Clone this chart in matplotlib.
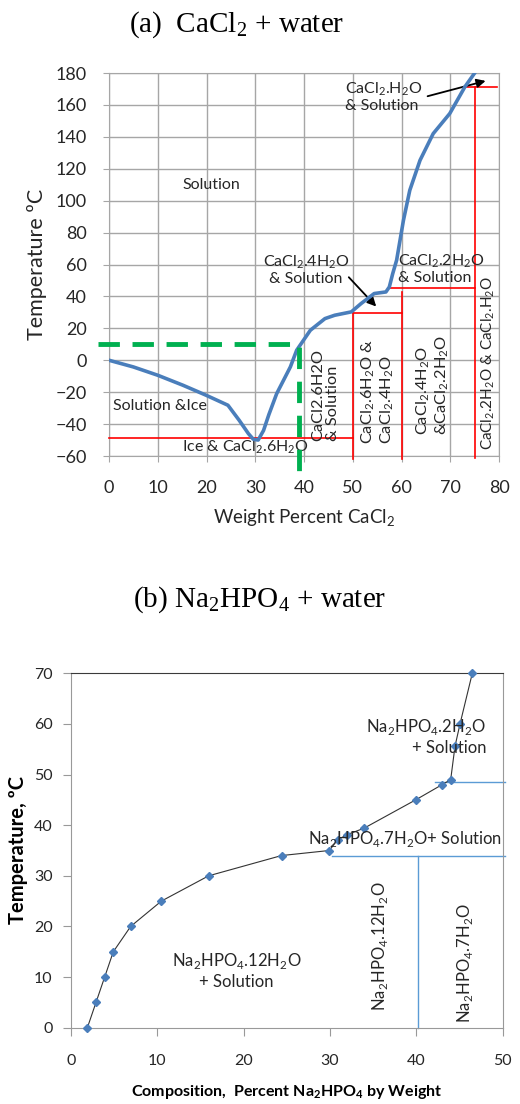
import matplotlib
matplotlib.use("Agg")
import matplotlib.pyplot as plt

plt.rcParams["font.family"] = ["Lato", "DejaVu Sans"]

# ---- (a) CaCl2 + water ----
cacl2_pct = [0, 5, 10, 15.2, 19.9, 24.4, 26.7, 28.6, 29.6, 30.6, 31.7, 32.8, 34.4,
             37.2, 38.5, 41.3, 44.3, 46.3, 49.7, 51.7, 54.4, 56.8, 57.5, 58.2, 59.0,
             60.4, 61.7, 63.8, 66.5, 69.9, 73.0, 75.4]
cacl2_temp = [0, -4.2, -9.4, -15.7, -21.9, -28.2, -37.6, -46, -49.5, -50, -44, -34,
              -20.9, -4.2, 6.3, 18.8, 26.1, 28.2, 30.3, 35.5, 41.8, 42.8, 45.9, 54.3,
              62.7, 87.7, 106.5, 125.3, 142, 154.6, 171.3, 181.7]
# phase boundaries (x pairs, y pairs)
bound_x = [[0, 50], [50, 50], [50, 60], [60, 60], [57.5, 75], [75, 75], [73, 79.5]]
bound_y = [[-49, -49], [30, -62], [29.5, 29.5], [43, -62], [45, 45], [171, -61], [171, 171]]
guide_temp = 10
guide_pct = 39

# ---- (b) Na2HPO4 + water ----
na_pct = [1.93, 2.93, 3.93, 4.93, 6.94, 10.49, 15.97, 24.4, 29.93, 30.9, 31.94,
          33.95, 39.93, 42.98, 43.98, 44.48, 45.06, 46.48]
na_temp = [0, 5, 10, 15, 20, 25, 30, 34, 35, 37.1, 38.1, 39.4, 45, 48, 49, 55.6, 60, 70]
na_bound_x = [[42.2, 50.3], [30.3, 50.3], [40.2, 40.2]]
na_bound_y = [[48.5, 48.5], [34, 34], [34, 0]]

BLUE = "#4a7ebb"
GRID = "#a6a6a6"
TXT = "#262626"

fig = plt.figure(figsize=(5.2, 11.04), dpi=100)

fig.text(237 / 520, 1 - 25 / 1104, r"(a)  CaCl$_\mathregular{2}$ + water",
         family="Liberation Serif", fontsize=21, ha="center", va="center")
fig.text(260 / 520, 1 - 600 / 1104, r"(b) Na$_\mathregular{2}$HPO$_\mathregular{4}$ + water",
         family="Liberation Serif", fontsize=21, ha="center", va="center")

ax = fig.add_axes([109 / 520, 1 - 456 / 1104, 390 / 520, 383 / 1104])
ax.set_xlim(0, 80)
ax.set_ylim(-60, 180)
ax.set_xticks(range(0, 81, 10))
ax.set_yticks(range(-60, 181, 20))
ax.grid(True, color=GRID, lw=1)
ax.set_axisbelow(True)
for s in ax.spines.values():
    s.set_color(GRID)
ax.tick_params(colors=GRID, length=4, labelcolor=TXT, labelsize=13)
ax.tick_params(axis="x", pad=13)
ax.tick_params(axis="y", pad=12)
ax.set_xlabel(r"Weight Percent CaCl$_\mathregular{2}$", fontsize=13.5, color=TXT, labelpad=9)
ax.set_ylabel("Temperature ºC", fontsize=15.5, color=TXT, labelpad=6)

for xs, ys in zip(bound_x, bound_y):
    ax.plot(xs, ys, color="red", lw=1.2, clip_on=False, zorder=3)
ax.plot(cacl2_pct, cacl2_temp, color=BLUE, lw=2.6, zorder=4,
        solid_capstyle="round", solid_joinstyle="round")
ax.plot([-2.2, guide_pct, guide_pct], [guide_temp, guide_temp, -71], color="#00b050",
        lw=3.5, dashes=(4.4, 2.6), clip_on=False, zorder=5)

fs = 11.5
sub2 = r"$_\mathregular{2}$"
ax.text(21, 110, "Solution", fontsize=fs, color=TXT, ha="center", va="center")
ax.text(10.5, -28.5, "Solution &Ice", fontsize=fs, color=TXT, ha="center", va="center")
ax.text(27.9, -54.7, "Ice & CaCl" + sub2 + ".6H" + sub2 + "O", fontsize=fs, color=TXT,
        ha="center", va="center")
ax.text(48.5, 165, "CaCl" + sub2 + ".H" + sub2 + "O\n& Solution", fontsize=fs, color=TXT,
        ha="left", va="center", linespacing=1.1)
ax.text(40.4, 57, "CaCl" + sub2 + ".4H" + sub2 + "O\n& Solution", fontsize=fs, color=TXT,
        ha="center", va="center", linespacing=1.1)
ax.text(59.2, 57.5, "CaCl" + sub2 + ".2H" + sub2 + "O\n& Solution", fontsize=fs, color=TXT,
        ha="left", va="center", linespacing=1.1)
ax.annotate("", xy=(77.8, 175.5), xytext=(64.8, 165),
            arrowprops=dict(arrowstyle="-|>", color="black", lw=1.3, mutation_scale=13))
ax.annotate("", xy=(55.2, 32.4), xytext=(48.8, 53.3),
            arrowprops=dict(arrowstyle="-|>", color="black", lw=1.3, mutation_scale=13))

vfs = 11.8
ax.text(44.5, -50.5, "CaCl2.6H2O\n& Solution", fontsize=vfs, color=TXT, rotation=90,
        ha="center", va="bottom", multialignment="left", linespacing=1.1)
ax.text(55.1, -52.3, "CaCl" + sub2 + ".6H" + sub2 + "O &\nCaCl" + sub2 + ".4H" + sub2 + "O",
        fontsize=vfs, color=TXT, rotation=90, ha="center", va="bottom",
        multialignment="left", linespacing=1.1)
ax.text(66.3, -47, "CaCl" + sub2 + ".4H" + sub2 + "O\n&CaCl" + sub2 + ".2H" + sub2 + "O",
        fontsize=vfs, color=TXT, rotation=90, ha="center", va="bottom",
        multialignment="left", linespacing=1.1)
ax.text(77.8, -56.4, "CaCl" + sub2 + ".2H" + sub2 + "O & CaCl" + sub2 + ".H" + sub2 + "O",
        fontsize=11, color=TXT, rotation=90, ha="center", va="bottom")

# ---- panel (b) ----
bx = fig.add_axes([70.7 / 520, 1 - 1027.7 / 1104, 432 / 520, 354.4 / 1104])
bx.set_xlim(0, 50)
bx.set_ylim(0, 70)
bx.set_xticks(range(0, 51, 10))
bx.set_yticks(range(0, 71, 10))
for name, s in bx.spines.items():
    s.set_color("#3a3a3a" if name == "top" else "#999999")
bx.tick_params(colors="#999999", length=6, labelcolor=TXT, labelsize=11.5)
bx.tick_params(axis="x", pad=13)
bx.tick_params(axis="y", pad=7)
sub4 = r"$_\mathregular{4}$"
bx.set_xlabel("Composition,  Percent Na" + sub2 + "HPO" + sub4 + " by Weight",
              fontsize=11.5, fontweight="bold", color="black", labelpad=11)
bx.set_ylabel("Temperature, ºC", fontsize=14.5, fontweight="bold", color="black", labelpad=4)

for xs, ys in zip(na_bound_x, na_bound_y):
    bx.plot(xs, ys, color="#5b9bd5", lw=1.0, clip_on=False, zorder=2)
bx.plot(na_pct, na_temp, color="#333333", lw=0.8, marker="D", ms=4.5,
        mfc=BLUE, mec=BLUE, clip_on=False, zorder=3)

na = "Na" + sub2 + "HPO" + sub4
bx.text(48.1, 57.5, na + ".2H" + sub2 + "O\n+ Solution", fontsize=12, color=TXT,
        ha="right", va="center", multialignment="right", linespacing=1.2)
bx.text(49.9, 37.3, na + ".7H" + sub2 + "O+ Solution", fontsize=12, color=TXT,
        ha="right", va="center")
bx.text(19.2, 11.3, na + ".12H" + sub2 + "O\n+ Solution", fontsize=12, color=TXT,
        ha="center", va="center", linespacing=1.2)
bx.text(35.8, 3.2, na + ".12H" + sub2 + "O", fontsize=12, color=TXT, rotation=90,
        ha="center", va="bottom")
bx.text(45.6, 0.9, na + ".7H" + sub2 + "O", fontsize=12, color=TXT, rotation=90,
        ha="center", va="bottom")

fig.savefig("out.png", dpi=100)
